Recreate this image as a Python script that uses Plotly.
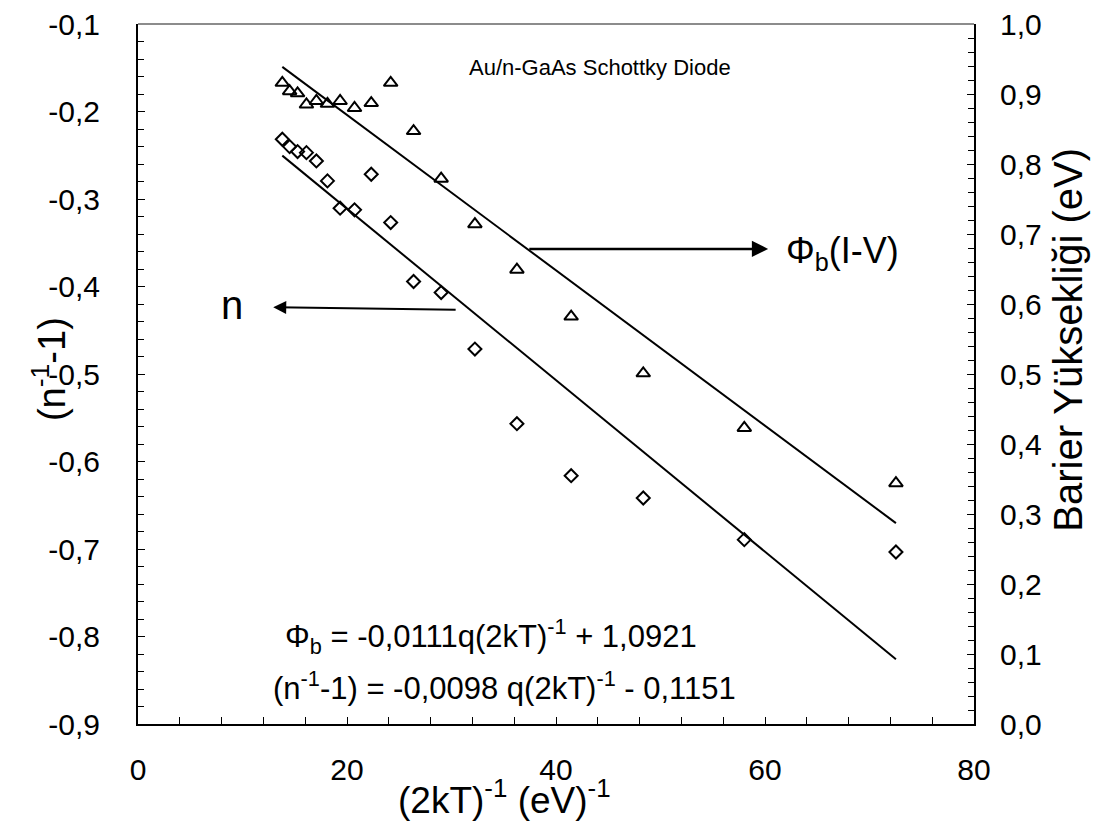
import plotly.graph_objects as go

# 1/(2kT) values (eV^-1)
x_vals = [13.81, 14.51, 15.27, 16.12, 17.07, 18.13, 19.34, 20.72, 22.32,
          24.18, 26.37, 29.01, 32.24, 36.26, 41.45, 48.35, 58.02, 72.53]
# Barrier height (right axis)
phi_vals = [0.916, 0.904, 0.901, 0.885, 0.890, 0.886, 0.890, 0.880, 0.887,
            0.916, 0.847, 0.779, 0.714, 0.649, 0.582, 0.501, 0.423, 0.344]
# (1/n - 1) (left axis)
n_vals = [-0.2317, -0.2401, -0.2458, -0.2470, -0.2565, -0.2793, -0.3105, -0.3124, -0.2717,
          -0.3269, -0.3943, -0.4069, -0.4715, -0.5568, -0.6162, -0.6417, -0.6893, -0.7034]
# Linear fits
phi_fit = [-0.0111, 1.0921]
n_fit = [-0.0098, -0.1151]

left_ticks = [-0.9, -0.8, -0.7, -0.6, -0.5, -0.4, -0.3, -0.2, -0.1]
left_text = ["-0,9", "-0,8", "-0,7", "-0,6", "-0,5", "-0,4", "-0,3", "-0,2", "-0,1"]
right_ticks = [0.0, 0.1, 0.2, 0.3, 0.4, 0.5, 0.6, 0.7, 0.8, 0.9, 1.0]
right_text = ["0,0", "0,1", "0,2", "0,3", "0,4", "0,5", "0,6", "0,7", "0,8", "0,9", "1,0"]
x_ticks = [0, 20, 40, 60, 80]
x_text = ["0", "20", "40", "60", "80"]

FONT = "Arial, Liberation Sans, sans-serif"

fit_x = [min(x_vals), max(x_vals)]
phi_line = [phi_fit[0] * v + phi_fit[1] for v in fit_x]
n_line = [n_fit[0] * v + n_fit[1] for v in fit_x]

fig = go.Figure()
fig.add_trace(go.Scatter(x=x_vals, y=n_vals, mode="markers", yaxis="y",
                         marker=dict(symbol="diamond-open", size=10, color="black",
                                     line=dict(color="black", width=2)),
                         showlegend=False))
fig.add_trace(go.Scatter(x=fit_x, y=n_line, mode="lines", yaxis="y",
                         line=dict(color="black", width=2), showlegend=False))
fig.add_trace(go.Scatter(x=x_vals, y=phi_vals, mode="markers", yaxis="y2",
                         marker=dict(symbol="triangle-up-open", size=12, color="black",
                                     line=dict(color="black", width=2)),
                         showlegend=False))
fig.add_trace(go.Scatter(x=fit_x, y=phi_line, mode="lines", yaxis="y2",
                         line=dict(color="black", width=2), showlegend=False))

W, H = 1095, 823
L, R, T, B = 137.7, 974.0, 24.0, 724.5

TICKF = 30
fig.update_layout(
    width=W, height=H,
    margin=dict(l=L, r=W - R, t=T, b=H - B, autoexpand=False),
    plot_bgcolor="white", paper_bgcolor="white",
    font=dict(family=FONT, size=TICKF, color="black"),
    xaxis=dict(range=[0, 80], tickvals=x_ticks, ticktext=x_text,
               ticks="inside", ticklen=7, tickwidth=1, tickcolor="black",
               minor=dict(dtick=4, ticks="inside", ticklen=7, tickcolor="black", tickwidth=1),
               showline=True, linecolor="black", linewidth=2, mirror=False,
               showgrid=False, zeroline=False, ticklabelstandoff=18,
               tickfont=dict(size=TICKF)),
    yaxis=dict(range=[-0.9, -0.1], tickvals=left_ticks, ticktext=left_text,
               ticks="inside", ticklen=7, tickwidth=1, tickcolor="black",
               minor=dict(dtick=0.02, ticks="inside", ticklen=6, tickcolor="black", tickwidth=1),
               showline=True, linecolor="black", linewidth=2,
               showgrid=False, zeroline=False, ticklabelstandoff=30,
               tickfont=dict(size=TICKF)),
    yaxis2=dict(range=[0, 1], overlaying="y", side="right",
                tickvals=right_ticks, ticktext=right_text,
                ticks="inside", ticklen=7, tickwidth=1, tickcolor="black",
                minor=dict(dtick=0.02, ticks="inside", ticklen=6, tickcolor="black", tickwidth=1),
                showline=True, linecolor="black", linewidth=2,
                showgrid=False, zeroline=False, ticklabelstandoff=18,
                tickfont=dict(size=TICKF)),
)

# top border (grey)
fig.add_shape(type="line", xref="paper", yref="paper", x0=0, x1=1, y0=1, y1=1,
              line=dict(color="#8c8c8c", width=2))

def px_to_paper_x(px):
    return (px - L) / (R - L)

def py_to_paper_y(py):
    return (B - py) / (B - T)

TITLEF = 38
EQF = 31
annotations = [
    # axis titles
    dict(text="(n<sup>-1</sup>-1)", x=px_to_paper_x(48), y=py_to_paper_y(369),
         xref="paper", yref="paper", textangle=-90, showarrow=False,
         font=dict(size=TITLEF), xanchor="center", yanchor="middle"),
    dict(text="Barier Yüksekliği (eV)", x=px_to_paper_x(1068), y=py_to_paper_y(340),
         xref="paper", yref="paper", textangle=-90, showarrow=False,
         font=dict(size=40), xanchor="center", yanchor="middle"),
    dict(text="(2kT)<sup>-1</sup> (eV)<sup>-1</sup>", x=px_to_paper_x(504), y=py_to_paper_y(798),
         xref="paper", yref="paper", showarrow=False,
         font=dict(size=37), xanchor="center", yanchor="middle"),
    # in-plot texts
    dict(text="Au/n-GaAs Schottky Diode", x=44.2, y=-0.150, xref="x", yref="y",
         showarrow=False, font=dict(size=22), xanchor="center", yanchor="middle"),
    dict(text="Φ<sub>b</sub>(I-V)", x=67.4, y=-0.362, xref="x", yref="y",
         showarrow=False, font=dict(size=36), xanchor="center", yanchor="middle"),
    dict(text="n", x=9.0, y=-0.421, xref="x", yref="y",
         showarrow=False, font=dict(size=40), xanchor="center", yanchor="middle"),
    dict(text="Φ<sub>b</sub> = -0,0111q(2kT)<sup>-1</sup> + 1,0921", x=33.8, y=-0.800,
         xref="x", yref="y", showarrow=False, font=dict(size=EQF),
         xanchor="center", yanchor="middle"),
    dict(text="(n<sup>-1</sup>-1) = -0,0098 q(2kT)<sup>-1</sup> - 0,1151", x=35.1, y=-0.857,
         xref="x", yref="y", showarrow=False, font=dict(size=EQF),
         xanchor="center", yanchor="middle"),
    # arrows
    dict(x=60.3, y=-0.357, ax=37.3, ay=-0.357, xref="x", yref="y", axref="x", ayref="y",
         text="", showarrow=True, arrowhead=2, arrowsize=1.3, arrowwidth=2.5, arrowcolor="black"),
    dict(x=12.94, y=-0.4238, ax=30.54, ay=-0.4266, xref="x", yref="y", axref="x", ayref="y",
         text="", showarrow=True, arrowhead=2, arrowsize=1.3, arrowwidth=2, arrowcolor="black"),
]
fig.update_layout(annotations=annotations)

fig.write_html("out.html", config={"displayModeBar": False},
               post_script="document.body.style.margin='0px';document.body.style.overflow='hidden';")
